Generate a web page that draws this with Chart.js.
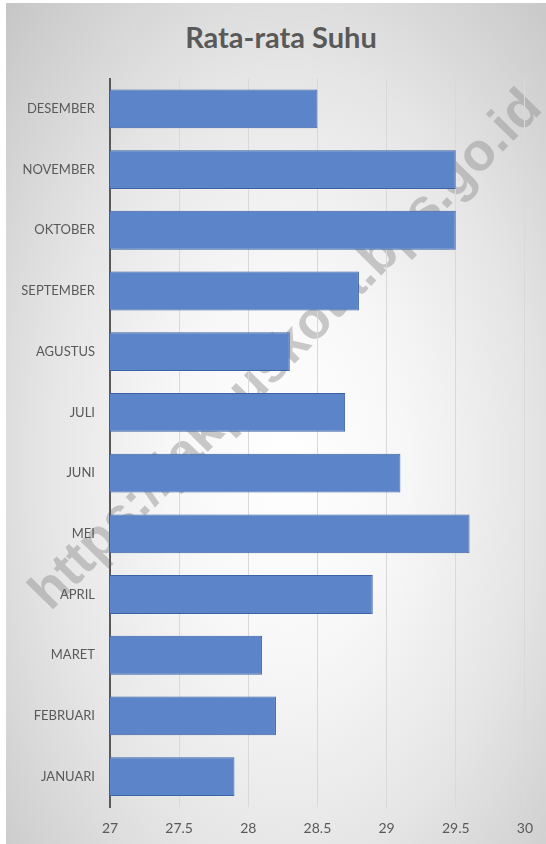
<!DOCTYPE html>
<html>
<head>
<meta charset="utf-8">
<script src="https://cdn.jsdelivr.net/npm/chart.js@4/dist/chart.umd.min.js"></script>
<style>
    html, body { margin: 0; padding: 0; background: #ffffff; }
    #frame {
        position: absolute;
        left: 6px;
        top: 3px;
        width: 540px;
        height: 841px;
        overflow: hidden;
        background: radial-gradient(ellipse farthest-corner at 52% 55%, #ffffff 0%, #f7f7f7 30%, #e6e6e6 60%, #c6c6c6 100%);
    }
    #watermark {
        position: absolute;
        left: 278px;
        top: 345px;
        transform: translate(-50%, -50%) rotate(-45.5deg);
        font-family: "Liberation Sans", Arial, sans-serif;
        font-weight: bold;
        font-size: 53px;
        color: rgba(150, 150, 150, 0.5);
        white-space: nowrap;
    }
    #title {
        position: absolute;
        left: 0;
        top: 19px;
        width: 540px;
        box-sizing: border-box;
        padding-left: 10px;
        text-align: center;
        font-family: Lato, sans-serif;
        font-weight: bold;
        font-size: 29px;
        line-height: 29px;
        color: #595959;
    }
    #chart { position: absolute; left: 0; top: 0; }
</style>
</head>
<body>
<div id="frame">
    <div id="watermark">https://jakpuskota.bps.go.id</div>
    <div id="title">Rata-rata Suhu</div>
    <canvas id="chart" width="540" height="841"></canvas>
</div>
<script>
// Chart data
const months = ['JANUARI', 'FEBRUARI', 'MARET', 'APRIL', 'MEI', 'JUNI',
    'JULI', 'AGUSTUS', 'SEPTEMBER', 'OKTOBER', 'NOVEMBER', 'DESEMBER'];
const avgTemp = [27.9, 28.2, 28.1, 28.9, 29.6, 29.1, 28.7, 28.3, 28.8, 29.5, 29.5, 28.5];
const axisMin = 27;
const axisMax = 30;
const axisStep = 0.5;

const textColor = '#595959';

// Create chart
const ctx = document.getElementById('chart').getContext('2d');
new Chart(ctx, {
    type: 'bar',
    data: {
        labels: months,
        datasets: [{
            label: 'Rata-rata Suhu',
            data: avgTemp,
            backgroundColor: '#5b84c9',
            borderColor: '#3b62a6',
            borderWidth: 1,
            borderSkipped: false,
            categoryPercentage: 1,
            barPercentage: 0.64
        }]
    },
    options: {
        indexAxis: 'y',
        responsive: false,
        devicePixelRatio: 1,
        animation: false,
        layout: {
            // top space holds the html title
            padding: { left: 0, right: 14, top: 75.5, bottom: 0 }
        },
        plugins: {
            legend: { display: false },
            tooltip: { enabled: false },
            title: { display: false }
        },
        scales: {
            x: {
                min: axisMin,
                max: axisMax,
                ticks: {
                    stepSize: axisStep,
                    color: textColor,
                    padding: 13,
                    font: { family: 'Lato', size: 14 },
                    callback: value => String(Number(value))
                },
                grid: {
                    color: '#d9d9d9',
                    lineWidth: 1,
                    drawTicks: false
                },
                border: { display: false },
                afterFit: scale => { scale.height = 37; }
            },
            y: {
                reverse: true,
                ticks: {
                    color: textColor,
                    padding: 15,
                    font: { family: 'Lato', size: 13 }
                },
                grid: { display: false, drawTicks: false },
                border: { display: true, color: '#595959', width: 2 },
                afterFit: scale => { scale.width = 104; }
            }
        }
    }
});
</script>
</body>
</html>
